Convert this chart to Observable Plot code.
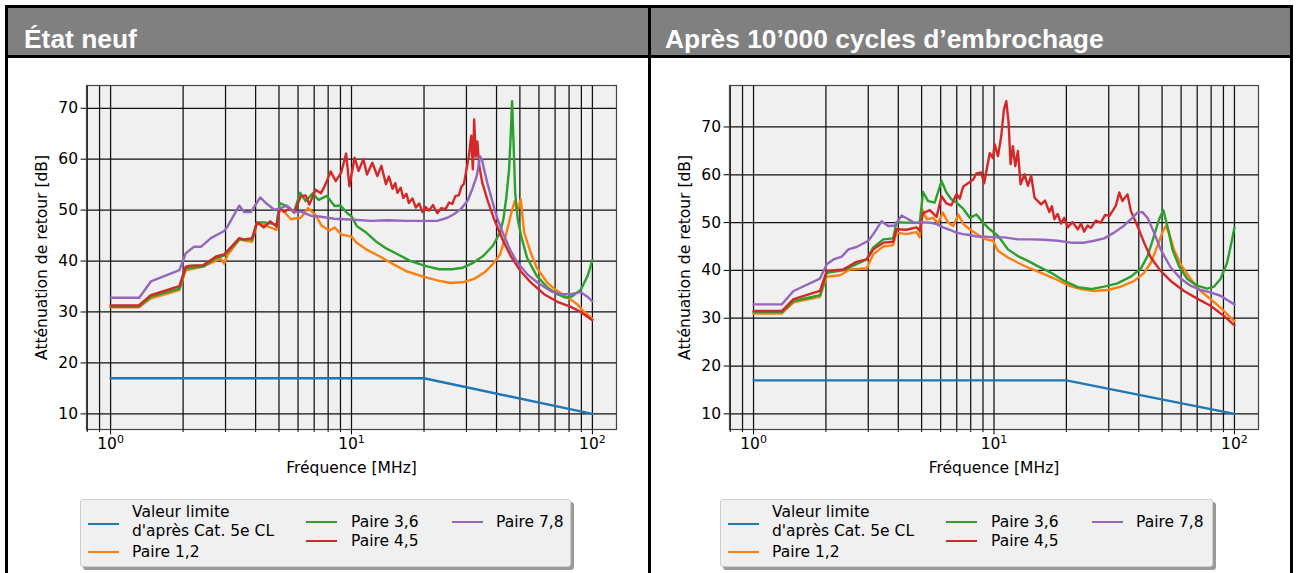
<!DOCTYPE html>
<html><head><meta charset="utf-8">
<script src="https://cdn.jsdelivr.net/npm/d3@7"></script>
<script src="https://cdn.jsdelivr.net/npm/@observablehq/plot@0.6"></script>
<style>
body{margin:0;background:#fff;}
#root{position:relative;width:1298px;height:573px;overflow:hidden;background:#fff;}
.bar{position:absolute;background:#000;}
.hdr{position:absolute;background:#808080;color:#fff;font:bold 26.4px "Liberation Sans",Arial,sans-serif;box-sizing:border-box;white-space:nowrap;}
.chart{position:absolute;}
.legend{position:absolute;box-sizing:border-box;background:#f0f0f0;border:1px solid #cfcfcf;border-radius:3px;box-shadow:3px 3px 0 #9a9a9a;font:15.5px "DejaVu Sans",sans-serif;color:#000;}
.legend .h{position:absolute;height:2.4px;width:31px;}
.legend .t{position:absolute;line-height:19px;white-space:pre;transform:translateY(-50%);}
</style></head>
<body><div id="root"></div>
<script>
// ---------- data ----------
const TITLES = ["État neuf", "Après 10’000 cycles d’embrochage"];
const X_LABEL = "Fréquence [MHz]";
const Y_LABEL = "Atténuation de retour [dB]";
const X_MAJOR = [1, 10, 100];
const X_TICK_BASE = "10";
const X_TICK_EXP = ["0", "1", "2"];
const X_MINOR = [0.8, 0.9, 2, 3, 4, 5, 6, 7, 8, 9, 20, 30, 40, 50, 60, 70, 80, 90];
const Y_TICKS = [10, 20, 30, 40, 50, 60, 70];
const SERIES_KEYS = ["limit", "p12", "p36", "p45", "p78"];
const SERIES_LABELS = ["Valeur limite\nd'après Cat. 5e CL", "Paire 1,2", "Paire 3,6", "Paire 4,5", "Paire 7,8"];
const SERIES_COLORS = ["#1f77b4", "#ff7f0e", "#2ca02c", "#d62728", "#9467bd"];

const limit_f = [1, 20, 100];
const limit_v = [17, 17, 10];

// Panel 1 : État neuf
const p1_p12_f = [1.0,1.31,1.47,1.93,2.05,2.42,2.74,2.85,2.96,3.06,3.42,3.87,4.05,4.33,4.88,5.0,5.3,5.6,5.9,6.16,6.6,7.1,7.5,8.1,8.5,9.1,10.0,10.5,11.5,13.0,14.9,16.9,20.0,22.7,25.7,29.4,32.3,35.5,38.6,41.4,44.0,46.1,47.6,48.8,50.4,52.1,55.5,58.7,65.1,71.6,79.3,86.7,91.6,100];
const p1_p12_v = [30.9,30.9,32.7,34.3,38.2,38.9,40.1,40.6,39.5,41.2,44.2,43.8,47.4,47.1,46.1,50.5,49.5,48.2,48.4,48.5,50.4,49.0,47.0,46.0,46.6,45.2,44.8,43.6,42.3,41.0,39.4,38.0,36.9,36.2,35.7,35.9,36.5,37.7,39.4,41.3,45.6,49.5,51.8,49.8,52.1,45.6,41.6,38.7,35.7,34.1,32.8,31.5,30.2,28.7];
const p1_p36_f = [1.0,1.31,1.47,1.93,2.05,2.42,2.74,2.96,3.2,3.42,3.87,4.05,4.33,4.88,5.04,5.43,5.78,6.12,6.45,6.9,7.3,7.9,8.5,9.0,9.6,10.0,10.5,11.5,12.6,13.8,15.6,17.6,20.4,23.1,26.1,29.0,32.1,35.2,38.6,41.4,42.7,44.0,45.1,45.8,46.4,47.1,47.8,49.0,50.6,53.6,58.7,65.1,71.5,77.4,82.4,89.5,95.6,100];
const p1_p36_v = [31.0,31.0,33.0,34.6,38.6,38.9,40.6,41.1,42.8,44.3,44.2,47.6,47.6,47.2,51.4,50.7,49.7,53.4,51.8,53.3,52.0,52.8,50.8,50.9,49.4,48.8,46.9,45.6,43.9,42.6,41.3,40.0,39.0,38.4,38.4,38.7,39.7,41.0,43.0,45.6,48.2,52.8,58.0,64.6,71.4,62.6,53.4,48.2,44.9,40.6,37.1,34.8,33.5,32.8,33.1,34.4,37.1,40.2];
const p1_p45_f = [1.0,1.31,1.47,1.93,2.05,2.15,2.42,2.74,2.96,3.2,3.42,3.59,3.87,4.05,4.33,4.6,4.88,5.04,5.25,5.55,5.78,6.16,6.45,6.68,7.1,7.46,7.74,8.2,8.6,9.05,9.5,9.8,10.3,10.7,11.2,11.6,12.2,12.8,13.3,13.9,14.3,14.8,15.2,15.5,16.0,16.4,16.9,17.3,17.9,18.5,19.1,19.7,20.3,21.0,21.8,22.7,23.6,24.6,25.4,26.2,27.0,27.9,28.6,29.3,30.7,31.4,31.9,32.3,32.8,33.3,33.9,34.9,36.6,39.1,42.3,45.8,50.4,55.5,63.0,71.6,81.3,89.5,100];
const p1_p45_v = [31.3,31.3,33.3,35.1,38.9,39.1,39.2,40.9,41.3,43.0,44.5,44.2,44.5,47.6,46.6,47.8,46.8,50.3,49.7,50.3,49.5,52.7,52.9,51.1,54.0,53.3,54.7,57.6,55.7,57.3,61.1,54.7,60.3,57.7,60.0,57.0,59.3,56.7,58.7,55.1,56.6,54.2,55.3,53.4,54.4,52.4,53.2,51.4,52.3,50.5,51.3,49.6,50.6,49.9,51.0,49.4,50.4,50.2,51.5,51.2,52.8,52.9,54.6,55.2,60.6,64.6,58.0,67.8,60.5,63.5,58.7,55.4,52.1,48.2,44.3,41.0,38.0,35.8,33.5,32.0,31.0,30.0,28.4];
const p1_p78_f = [1.0,1.315,1.47,1.93,2.05,2.22,2.37,2.61,2.96,3.06,3.42,3.59,3.82,4.18,4.41,4.78,5.01,5.39,5.78,6.16,6.78,7.46,8.47,10.3,12.0,14.0,17.0,20.0,22.7,25.0,26.6,28.4,30.3,31.7,33.1,34.2,34.9,35.5,36.6,38.4,40.4,43.0,45.8,48.8,53.7,59.1,67.1,73.9,81.3,89.5,95.3,100];
const p1_p78_v = [32.8,32.8,36.0,38.2,41.5,42.8,42.8,44.5,45.9,46.8,50.9,49.6,49.6,52.5,51.4,50.1,50.3,50.9,49.6,49.7,48.9,48.7,48.3,48.1,47.9,48.0,47.9,47.9,47.9,48.5,49.2,50.2,51.8,54.1,56.7,60.6,59.7,58.0,55.4,51.8,48.2,44.9,42.0,39.7,37.4,35.8,34.1,33.5,33.5,33.9,33.0,32.1];

// Panel 2 : après 10'000 cycles
const p2_p12_f = [1.0,1.311,1.466,1.89,2.016,2.289,2.517,2.954,3.149,3.462,3.808,3.93,4.32,4.76,4.91,5.03,5.25,5.58,5.85,6.13,6.44,6.77,7.11,7.45,7.93,8.33,8.87,9.29,9.9,10.39,11.43,12.57,13.83,15.7,17.84,20.25,23.0,26.1,29.7,33.7,38.3,42.1,44.9,47.8,50.1,51.8,53.4,56.0,59.7,65.7,72.3,79.5,87.5,94.7,100];
const p2_p12_v = [31.0,31.0,33.3,34.5,38.7,39.0,40.2,40.4,43.4,45.0,45.3,47.9,47.6,48.0,46.9,52.8,50.7,51.0,49.9,52.1,50.0,49.3,51.7,49.7,48.6,47.9,46.9,46.5,46.2,44.1,42.7,41.6,40.6,39.5,38.3,36.9,36.1,35.7,35.9,36.6,37.8,39.5,41.6,45.1,47.9,49.3,47.9,44.4,41.3,38.2,35.7,34.0,32.2,30.5,29.4];
const p2_p36_f = [1.0,1.311,1.466,1.89,2.016,2.36,2.68,2.954,3.149,3.462,3.808,3.93,4.32,4.76,4.91,5.07,5.32,5.67,6.05,6.34,6.65,6.98,7.44,7.93,8.45,9.0,9.6,10.4,11.43,12.57,13.83,15.2,17.3,19.6,22.3,25.3,28.7,32.6,37.1,40.8,43.5,46.3,48.6,50.6,52.6,55.2,58.8,63.7,70.0,77.0,82.1,87.5,93.2,97.8,100];
const p2_p36_v = [31.3,31.3,33.6,34.8,39.5,40.0,41.3,42.3,44.8,46.5,46.7,50.1,50.0,50.0,49.9,56.4,54.5,54.2,58.7,56.3,54.9,54.2,52.9,51.0,51.7,50.0,48.6,47.2,44.4,43.0,42.0,40.9,39.5,37.8,36.5,36.1,36.6,37.3,38.7,40.4,43.0,47.2,50.7,52.6,49.3,44.4,40.9,38.2,36.8,36.2,36.6,38.2,41.6,46.5,49.0];
const p2_p45_f = [1.0,1.311,1.466,1.89,2.016,2.36,2.68,2.954,3.149,3.462,3.808,3.93,4.32,4.76,4.91,5.07,5.41,5.77,6.05,6.34,6.65,6.98,7.2,7.44,7.93,8.2,8.45,8.85,9.1,9.3,9.6,9.9,10.06,10.39,10.72,11.0,11.25,11.5,11.72,11.98,12.26,12.57,12.9,13.4,13.83,14.28,14.74,15.7,16.3,17.0,17.4,17.84,18.4,19.0,19.6,20.25,21.2,22.3,23.0,23.7,24.5,25.3,26.5,27.8,29.0,30.2,32.1,33.2,34.2,35.9,37.1,39.5,42.1,44.9,49.3,54.3,61.7,70.0,79.5,90.3,100];
const p2_p45_v = [31.5,31.5,34.0,35.7,39.9,40.2,41.8,42.3,44.4,45.8,46.0,48.6,48.5,49.0,48.3,52.0,52.6,51.2,55.5,54.0,53.6,56.0,55.0,57.5,58.5,59.0,60.3,60.5,58.2,60.8,64.5,63.5,66.4,63.9,68.1,73.7,75.4,70.9,62.2,66.0,61.8,65.0,58.0,60.1,57.7,59.8,55.2,53.8,54.6,52.2,53.4,50.7,51.8,49.8,51.0,49.0,50.1,48.6,49.8,48.1,49.4,48.9,50.4,50.0,51.6,51.4,53.5,56.3,54.5,55.9,52.4,49.3,45.8,42.7,39.9,37.8,35.7,34.1,32.6,30.5,28.5];
const p2_p78_f = [1.0,1.311,1.466,1.89,2.016,2.15,2.33,2.48,2.68,3.0,3.15,3.41,3.63,3.87,4.13,4.4,4.69,5.0,5.41,5.77,6.14,6.55,6.98,7.44,7.93,8.45,9.0,9.9,11.07,12.57,14.28,16.2,18.4,20.9,23.7,26.1,28.7,31.6,34.8,37.1,39.5,41.4,43.5,46.3,49.3,54.3,59.7,65.7,72.3,79.5,87.5,94.7,100];
const p2_p78_v = [32.9,32.9,35.7,38.3,41.3,42.3,42.9,44.4,44.9,46.2,47.6,50.3,49.3,49.4,51.5,50.7,49.9,50.1,50.0,49.7,49.0,48.5,47.9,47.6,47.4,47.1,47.1,46.9,46.9,46.5,46.5,46.4,46.2,45.8,45.8,46.2,46.7,47.9,49.4,50.7,52.1,52.2,51.0,47.9,44.4,40.6,38.3,36.8,35.9,35.4,34.7,33.6,32.9];

// ---------- build ----------
function rows(f, v, key) {
  if (f.length !== v.length) console.error("length mismatch", key, f.length, v.length);
  return f.map((x, i) => ({f: x, v: v[i], key}));
}

function chart(series, W, H, m) {
  const data = series.flatMap(s => rows(s.f, s.v, s.key));
  const lo = d3.min(data, d => d.v), hi = d3.max(data, d => d.v), pad = 0.05 * (hi - lo);
  const xdom = [Math.pow(10, -0.1), Math.pow(10, 2.1)];
  const svg = Plot.plot({
    width: W, height: H,
    marginLeft: m.l, marginRight: m.r, marginTop: m.t, marginBottom: m.b,
    x: {type: "log", domain: xdom, axis: null},
    y: {domain: [lo - pad, hi + pad], axis: null},
    color: {type: "ordinal", domain: SERIES_KEYS, range: SERIES_COLORS},
    style: {fontFamily: "DejaVu Sans", fontSize: "15.5px", color: "#000", background: "transparent", overflow: "visible"},
    marks: [
      Plot.frame({fill: "#f0f0f0", stroke: null}),
      Plot.ruleX([...X_MINOR, ...X_MAJOR].filter(d => d >= xdom[0]), {stroke: "#111", strokeWidth: 1.25}),
      Plot.ruleY(Y_TICKS, {stroke: "#111", strokeWidth: 1.25}),
      Plot.line(data, {x: "f", y: "v", z: "key", stroke: "key", strokeWidth: 2.4, strokeLinejoin: "round"}),
      Plot.frame({stroke: "#444", strokeWidth: 1.2}),
      Plot.axisX(X_MAJOR, {tickSize: 5.4, tickPadding: 3, tickFormat: d => X_TICK_BASE + X_TICK_EXP[X_MAJOR.indexOf(d)], label: null, ariaLabel: "xmajor"}),
      Plot.axisX(X_MINOR.filter(d => d >= xdom[0]), {tickSize: 3.1, tickFormat: () => "", label: null}),
      Plot.axisY(Y_TICKS, {tickSize: 5.4, tickPadding: 3, label: null}),
      Plot.text([X_LABEL], {frameAnchor: "bottom", dy: 39, lineAnchor: "middle"}),
      Plot.text([Y_LABEL], {frameAnchor: "left", dx: -44, rotate: -90, textAnchor: "middle", lineAnchor: "middle"})
    ]
  });
  // render the major x tick labels as 10 with a raised exponent (like mathtext)
  svg.querySelectorAll('g[aria-label="xmajor tick label"] text, g[aria-label="x-axis tick label"] text').forEach(t => {
    const s = t.textContent;
    if (!s.startsWith(X_TICK_BASE) || s.length <= X_TICK_BASE.length) return;
    const exp = s.slice(X_TICK_BASE.length);
    t.textContent = "";
    const a = document.createElementNS("http://www.w3.org/2000/svg", "tspan");
    a.textContent = X_TICK_BASE;
    const b = document.createElementNS("http://www.w3.org/2000/svg", "tspan");
    b.textContent = exp;
    b.setAttribute("font-size", "11px");
    b.setAttribute("dy", "-6");
    t.appendChild(a); t.appendChild(b);
  });
  return svg;
}

const root = document.getElementById("root");
function box(cls, css, html) {
  const d = document.createElement("div");
  d.className = cls;
  Object.assign(d.style, css);
  if (html != null) d.textContent = html;
  root.appendChild(d);
  return d;
}

// headers
box("hdr", {left: "8px", top: "8px", width: "640px", height: "47px", paddingLeft: "16px", lineHeight: "63px"}, TITLES[0]);
box("hdr", {left: "651px", top: "8px", width: "639px", height: "47px", paddingLeft: "14px", lineHeight: "63px"}, TITLES[1]);
// black frame lines
box("bar", {left: "5px", top: "5px", width: "1288px", height: "3px"});
box("bar", {left: "5px", top: "55px", width: "1288px", height: "3px"});
box("bar", {left: "5px", top: "5px", width: "3px", height: "570px"});
box("bar", {left: "648px", top: "5px", width: "3px", height: "570px"});
box("bar", {left: "1290px", top: "5px", width: "3px", height: "570px"});

const panels = [
  {left: 8, W: 640, series: [
    {key: "limit", f: limit_f, v: limit_v}, {key: "p12", f: p1_p12_f, v: p1_p12_v},
    {key: "p36", f: p1_p36_f, v: p1_p36_v}, {key: "p45", f: p1_p45_f, v: p1_p45_v},
    {key: "p78", f: p1_p78_f, v: p1_p78_v}], legendLeft: 80, legendW: 491},
  {left: 651, W: 639, series: [
    {key: "limit", f: limit_f, v: limit_v}, {key: "p12", f: p2_p12_f, v: p2_p12_v},
    {key: "p36", f: p2_p36_f, v: p2_p36_v}, {key: "p45", f: p2_p45_f, v: p2_p45_v},
    {key: "p78", f: p2_p78_f, v: p2_p78_v}], legendLeft: 720, legendW: 493}
];

for (const p of panels) {
  const svg = chart(p.series, p.W, 420, {l: 78, r: 32, t: 27, b: 49});
  const wrap = box("chart", {left: p.left + "px", top: "58px"});
  wrap.appendChild(svg);

  const lg = box("legend", {left: p.legendLeft + "px", top: "499px", width: p.legendW + "px", height: "68px"});
  // legend layout: [handle x, handle y, text x, text y] per entry
  const pos = [[7, 24, 51, 22], [7, 52, 51, 52], [225, 22, 270, 22], [225, 41, 270, 41], [371, 22, 415, 22]];
  SERIES_KEYS.forEach((k, i) => {
    const h = document.createElement("div");
    h.className = "h";
    Object.assign(h.style, {left: pos[i][0] + "px", top: (pos[i][1] - 1.2) + "px", background: SERIES_COLORS[i]});
    lg.appendChild(h);
    const t = document.createElement("div");
    t.className = "t";
    Object.assign(t.style, {left: pos[i][2] + "px", top: pos[i][3] + "px"});
    t.textContent = SERIES_LABELS[i];
    lg.appendChild(t);
  });
}
</script>
</body></html>
